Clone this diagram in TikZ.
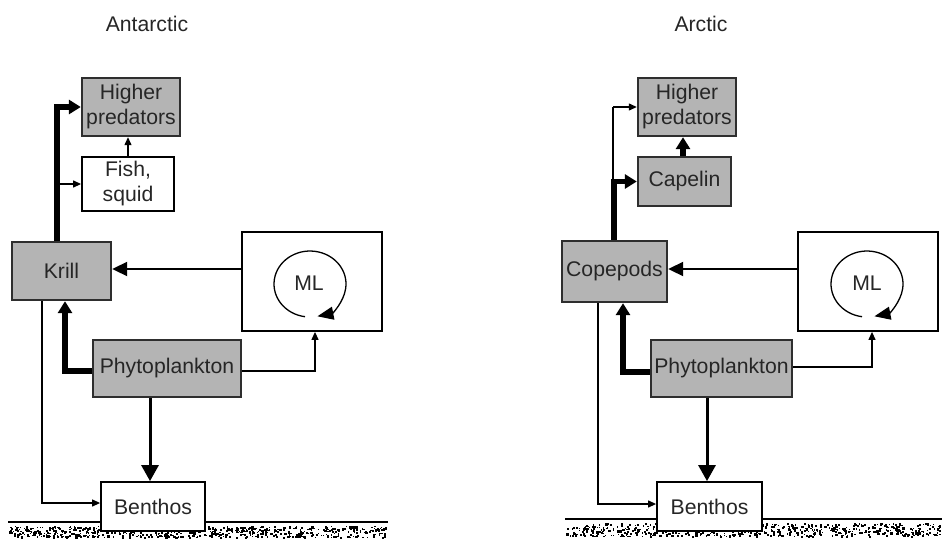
\documentclass[tikz,border=0pt]{standalone}
\usepackage{fontspec}
\setmainfont{Liberation Sans}
\usetikzlibrary{arrows.meta}
\definecolor{boxgray}{HTML}{B4B4B4}
\definecolor{edgegray}{HTML}{2E2E2E}
\definecolor{txt}{HTML}{262626}
\tikzset{
  lbl/.style={font=\fontsize{21.2}{25}\selectfont, text=txt, align=center, inner sep=0pt},
  graybox/.style={lbl, draw=edgegray, line width=2.4pt, fill=boxgray},
  whitebox/.style={lbl, draw=black, line width=1.8pt, fill=white},
  thinarrow/.style={draw=black, line width=1.2pt, -{Triangle[length=8pt,width=7pt]}},
  thinline/.style={draw=black, line width=1.2pt},
  midarrow/.style={draw=black, line width=2pt, -{Triangle[length=15pt,width=14pt]}},
  downarrow/.style={draw=black, line width=3pt, -{Triangle[length=16pt,width=17pt]}},
  fatarrow/.style={draw=black, line width=5.5pt, line join=miter, -{Triangle[length=12pt,width=14pt]}},
  cyclearrow/.style={draw=black, line width=1.3pt, -{Triangle[length=16pt,width=13pt]}},
  groundline/.style={draw=black, line width=2pt},
}
\begin{document}
\begin{tikzpicture}[x=1pt,y=-1pt]
\useasboundingbox (0,0) rectangle (942,538);

% titles
\node[lbl] (t1) at (147,24) {Antarctic};
\node[lbl] (t2) at (701,24) {Arctic};

% ground stipple
\pgfmathsetseed{4242}
\foreach \i in {1,...,650}{
  \pgfmathsetmacro\xx{8+378*rnd}
  \pgfmathsetmacro\yy{526+11*rnd}
  \pgfmathsetmacro\ss{0.9+1.6*rnd}
  \fill[black] (\xx,\yy) rectangle ++(\ss,\ss);
}
\foreach \i in {1,...,650}{
  \pgfmathsetmacro\xx{565+375*rnd}
  \pgfmathsetmacro\yy{523+13*rnd}
  \pgfmathsetmacro\ss{0.9+1.6*rnd}
  \fill[black] (\xx,\yy) rectangle ++(\ss,\ss);
}
\coordinate (g1a) at (8,522);
\coordinate (g1b) at (388,522);
\coordinate (g2a) at (565,519);
\coordinate (g2b) at (942,519);
\draw[groundline] (g1a) -- (g1b);
\draw[groundline] (g2a) -- (g2b);

% ---------------- Antarctic ----------------
\node[graybox, minimum width=98pt, minimum height=58pt] (hp1) at (131,107) {Higher\\predators};
\node[whitebox, minimum width=92pt, minimum height=54pt] (fish) at (128,184) {Fish,\\squid};
\node[graybox, minimum width=99pt, minimum height=58pt] (krill) at (61.5,271) {Krill};
\node[whitebox, minimum width=140pt, minimum height=99pt] (ml1) at (312,281.5) {};
\node[lbl] (ml1t) at (309,283) {ML};
\node[graybox, minimum width=148pt, minimum height=57pt] (phy1) at (167,368.5) {Phytoplankton};
\node[whitebox, minimum width=104pt, minimum height=49pt] (ben1) at (153,506.5) {Benthos};

\coordinate (as1) at (305,316.7);
\draw[cyclearrow] (as1) arc[start angle=262, end angle=-78, x radius=36pt, y radius=33pt];

\coordinate (k57) at (57,0);
\coordinate (k65) at (65,0);
\coordinate (k42) at (42,0);
\coordinate (m315) at (315,0);
\coordinate (b150) at (150,0);
\coordinate (y269) at (0,269);
\coordinate (y371) at (0,371);
\coordinate (y503) at (0,503);

\draw[fatarrow] (krill.north -| k57) |- (hp1.west);
\draw[thinarrow] (fish.west -| k57) -- (fish.west);
\draw[thinarrow] (fish.north) -- (fish.north |- hp1.south);
\draw[midarrow] (ml1.west |- y269) -- (krill.east |- y269);
\draw[fatarrow] (phy1.west |- y371) -| (krill.south -| k65);
\draw[thinarrow] (phy1.east |- y371) -| (ml1.south -| m315);
\draw[thinarrow] (krill.south -| k42) |- (ben1.west |- y503);
\draw[downarrow] (phy1.south -| b150) -- (ben1.north -| b150);

% ---------------- Arctic ----------------
\node[graybox, minimum width=98pt, minimum height=58pt] (hp2) at (687,107) {Higher\\predators};
\node[graybox, minimum width=93pt, minimum height=49pt] (cap) at (684.5,181.5) {Capelin};
\node[graybox, minimum width=105pt, minimum height=61pt] (cop) at (614.5,271.5) {Copepods};
\node[whitebox, minimum width=140pt, minimum height=99pt] (ml2) at (868,281.5) {};
\node[lbl] (ml2t) at (867,283) {ML};
\node[graybox, minimum width=141pt, minimum height=57pt] (phy2) at (721.5,368.5) {Phytoplankton};
\node[whitebox, minimum width=105pt, minimum height=49pt] (ben2) at (709.5,506.5) {Benthos};

\coordinate (as2) at (862,316.7);
\draw[cyclearrow] (as2) arc[start angle=262, end angle=-78, x radius=36pt, y radius=33pt];

\coordinate (c614) at (614,0);
\coordinate (c613) at (613,0);
\coordinate (c623) at (623,0);
\coordinate (c598) at (598,0);
\coordinate (c683) at (683,0);
\coordinate (c872) at (872,0);
\coordinate (c707) at (707,0);
\coordinate (y372) at (0,372);
\coordinate (y367) at (0,367);
\coordinate (y504) at (0,504);
\coordinate (jn) at (613,183);

\draw[thinline] (jn) -- (jn |- hp2.west);
\draw[thinarrow] (jn |- hp2.west) -- (hp2.west);
\draw[fatarrow] (cop.north -| c614) |- (cap.west);
\draw[fatarrow] (cap.north -| c683) -- (hp2.south -| c683);
\draw[midarrow] (ml2.west |- y269) -- (cop.east |- y269);
\draw[fatarrow] (phy2.west |- y372) -| (cop.south -| c623);
\draw[thinarrow] (phy2.east |- y367) -| (ml2.south -| c872);
\draw[thinarrow] (cop.south -| c598) |- (ben2.west |- y504);
\draw[downarrow] (phy2.south -| c707) -- (ben2.north -| c707);
\end{tikzpicture}
\end{document}
